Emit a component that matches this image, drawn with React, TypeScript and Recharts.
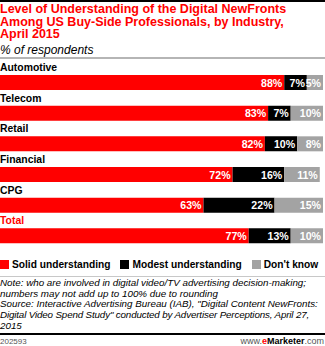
import { BarChart, Bar, XAxis, YAxis, LabelList, Legend } from "recharts";

// values (% of respondents)
const industries = ["Automotive", "Telecom", "Retail", "Financial", "CPG", "Total"];
const solid = [88, 83, 82, 72, 63, 77];
const modest = [7, 7, 10, 16, 22, 13];
const dontKnow = [5, 10, 8, 11, 15, 10];

const SERIES = [
  { key: "solid", name: "Solid understanding", color: "#ff0000" },
  { key: "modest", name: "Modest understanding", color: "#000000" },
  { key: "dontKnow", name: "Don't know", color: "#a3a3a3" },
];

const data = industries.map((industry, i) => ({
  industry,
  solid: solid[i],
  modest: modest[i],
  dontKnow: dontKnow[i],
}));

const FONT = "'Liberation Sans', Arial, sans-serif";

const NOTE_LINES = [
  "Note: who are involved in digital video/TV advertising decision-making;",
  "numbers may not add up to 100% due to rounding",
  'Source: Interactive Advertising Bureau (IAB), "Digital Content NewFronts:',
  'Digital Video Spend Study" conducted by Advertiser Perceptions, April 27,',
  "2015",
];

// industry name sits above its bar, flush left
function CategoryLabel(props: any) {
  const { x, y, value } = props;
  const isTotal = value === "Total";
  return (
    <text
      x={x}
      y={y - 4}
      fill={isTotal ? "#ff0000" : "#000"}
      fontFamily={FONT}
      fontWeight="bold"
      fontSize={10.4}
    >
      {value}
    </text>
  );
}

function ValueLabel(props: any) {
  const { x, y, width, height, value } = props;
  return (
    <text
      x={x + width - 2}
      y={y + height / 2}
      textAnchor="end"
      dominantBaseline="central"
      fill="#fff"
      fontFamily={FONT}
      fontWeight="bold"
      fontSize={10.6}
    >
      {`${value}%`}
    </text>
  );
}

function LegendContent() {
  return (
    <div style={{ display: "flex", whiteSpace: "nowrap", fontFamily: FONT, fontWeight: "bold", fontSize: 10.2 }}>
      {SERIES.map((s) => (
        <div key={s.key} style={{ display: "flex", alignItems: "center", marginRight: 10 }}>
          <span style={{ width: 9, height: 9, background: s.color, marginRight: 3, display: "inline-block" }} />
          {s.name}
        </div>
      ))}
    </div>
  );
}

export default function App() {
  return (
    <div style={{ position: "absolute", left: 0, top: 0, width: 325, height: 346, background: "#fff", fontFamily: FONT, overflow: "hidden" }}>
      <div style={{ position: "absolute", left: 0, top: 0, width: 325, height: 2, background: "#000" }} />
      <div style={{ position: "absolute", left: 0, top: 3, width: 325, color: "#ff0000", fontWeight: "bold", fontSize: 12.5, lineHeight: "12.5px", whiteSpace: "nowrap" }}>
        Level of Understanding of the Digital NewFronts
        <br />
        Among US Buy-Side Professionals, by Industry,
        <br />
        April 2015
      </div>
      <div style={{ position: "absolute", left: 0, top: 43, fontStyle: "italic", fontSize: 12, color: "#000" }}>
        % of respondents
      </div>
      <div style={{ position: "absolute", left: 0, top: 57, width: 325, height: 2, background: "#b5b5b5" }} />

      <div style={{ position: "absolute", left: 0, top: 0 }}>
        <BarChart
          width={325}
          height={346}
          data={data}
          layout="vertical"
          barSize={15}
          margin={{ top: 67, right: 2, bottom: 84, left: 0 }}
        >
          <XAxis type="number" domain={[0, 100]} hide />
          <YAxis type="category" dataKey="industry" hide />
          {SERIES.map((s) => (
            <Bar key={s.key} dataKey={s.key} name={s.name} stackId="a" fill={s.color} isAnimationActive={false}>
              <LabelList dataKey={s.key} content={<ValueLabel />} />
              {s.key === "solid" && <LabelList dataKey="industry" content={<CategoryLabel />} />}
            </Bar>
          ))}
          <Legend
            verticalAlign="bottom"
            align="left"
            content={<LegendContent />}
            wrapperStyle={{ left: 0, top: 259, bottom: "auto", width: 330 }}
          />
        </BarChart>
      </div>

      <div style={{ position: "absolute", left: 0, top: 276, width: 325, height: 1, background: "#c8c8c8" }} />
      <div style={{ position: "absolute", left: 0, top: 278, width: 325, fontStyle: "italic", fontSize: 9.8, lineHeight: "10.7px", color: "#000", whiteSpace: "nowrap" }}>
        {NOTE_LINES.map((line, i) => (
          <div key={line} style={{ letterSpacing: i === 3 ? -0.15 : 0 }}>{line}</div>
        ))}
      </div>
      <div style={{ position: "absolute", left: 0, top: 333, width: 325, height: 2, background: "#000" }} />
      <div style={{ position: "absolute", left: 0, top: 337, fontSize: 8, color: "#555" }}>202593</div>
      <div style={{ position: "absolute", right: 1, top: 336, fontSize: 9, color: "#555" }}>
        www.<span style={{ color: "#ff0000", fontWeight: "bold" }}>e</span>
        <span style={{ color: "#000", fontWeight: "bold" }}>Marketer</span>.com
      </div>
    </div>
  );
}
